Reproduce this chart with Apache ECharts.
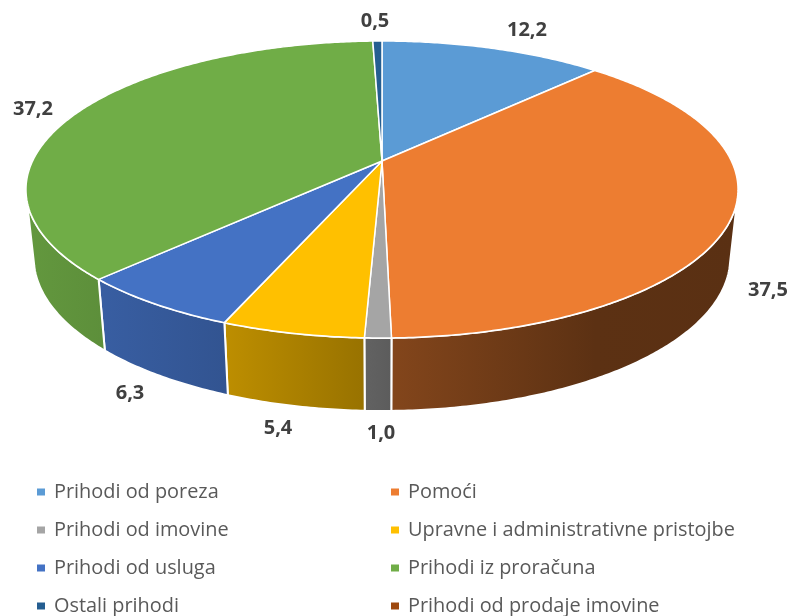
<!DOCTYPE html>
<html>
<head>
<meta charset="utf-8">
<script src="https://cdn.jsdelivr.net/npm/echarts@6/dist/echarts.min.js"></script>
<style>html,body{margin:0;padding:0;background:#fff}#c{width:792px;height:616px}</style>
</head>
<body>
<div id="c"></div>
<script>
const categories = ['Prihodi od poreza','Pomoći','Prihodi od imovine','Upravne i administrativne pristojbe','Prihodi od usluga','Prihodi iz proračuna','Ostali prihodi','Prihodi od prodaje imovine'];
const values = [12.2,37.5,1.0,5.4,6.3,37.2,0.5,0];
const valueLabels = ['12,2','37,5','1,0','5,4','6,3','37,2','0,5',''];
const colors = ['#5B9BD5','#ED7D31','#A5A5A5','#FFC000','#4472C4','#70AD47','#255E91','#9E480E'];

// Layout of the perspective pie
const view = {cx:382, cy:161, a:349.4, b:143, k:0.192, wallScaleX:0.978, wallScaleY:1.03, wallY:228.7, frontFrom:1.80, frontTo:4.48};
const labelAnchors = [[527,30],[768,290],[381,433],[278,428],[130,393],[33,109],[375,21],[0,0]];
const wallShade = [[0,.88],[.28,.74],[.47,.6],[.52,.55],[.8,.39],[1,.38]];

const total = values.reduce((s,v)=>s+v,0);
const starts = [];
values.reduce((s,v,i)=>{starts[i]=s;return s+v;},0);

function project(theta){
  const u=Math.sin(theta), v=-Math.cos(theta), d=1-view.k*v;
  return [view.cx+view.a*u/d, view.cy+view.b*v/d];
}
function lower(p){
  return [view.cx+view.wallScaleX*(p[0]-view.cx), view.wallY+view.wallScaleY*(p[1]-view.cy)];
}
function shade(hex,f){
  const n=parseInt(hex.slice(1),16);
  const c=[n>>16,(n>>8)&255,n&255].map(x=>Math.round(x*f));
  return 'rgb('+c.join(',')+')';
}
function arcPoints(from,to){
  const n=Math.max(4,Math.ceil((to-from)/0.01));
  const pts=[];
  for(let j=0;j<=n;j++) pts.push(project(from+(to-from)*j/n));
  return pts;
}
function renderSlice(i){
  return function(params,api){
    const value=api.value(0);
    if(!(value>0)) return {type:'group',children:[]};
    const from=starts[i]/total*2*Math.PI;
    const to=from+value/total*2*Math.PI;
    const children=[];
    const lo=Math.max(from,view.frontFrom), hi=Math.min(to,view.frontTo);
    if(hi>lo){
      const arc=arcPoints(lo,hi);
      children.push({type:'polygon',z2:1,shape:{points:arc.concat(arc.map(lower).reverse())},style:{
        fill:{type:'linear',x:26,y:0,x2:738,y2:0,global:true,
          colorStops:wallShade.map(s=>({offset:s[0],color:shade(colors[i],s[1])}))},
        stroke:'#fff',lineWidth:2,lineJoin:'round'}});
    }
    children.push({type:'polygon',z2:10,shape:{points:[[view.cx,view.cy]].concat(arcPoints(from,to))},
      style:{fill:colors[i],stroke:'#fff',lineWidth:1.5,lineJoin:'round'}});
    children.push({type:'text',z2:20,x:labelAnchors[i][0],y:labelAnchors[i][1],style:{
      text:valueLabels[i],fill:'#404040',font:'bold 20px "Open Sans"',align:'center',verticalAlign:'middle'}});
    return {type:'group',children:children};
  };
}
const legendBase = {orient:'vertical',selectedMode:false,icon:'rect',itemWidth:8,itemHeight:7,itemGap:18,top:482,padding:0,
  textStyle:{color:'#595959',fontFamily:'"Open Sans"',fontSize:19.9,lineHeight:20,height:20,padding:[0,0,0,4]}};
const option = {
  animation:false,
  backgroundColor:'#fff',
  legend:[
    Object.assign({},legendBase,{left:37,data:categories.filter((_,i)=>i%2===0)}),
    Object.assign({},legendBase,{left:391,data:categories.filter((_,i)=>i%2===1)})
  ],
  series:categories.map((name,i)=>({
    type:'custom',name:name,coordinateSystem:'none',silent:true,
    itemStyle:{color:colors[i]},
    data:[[values[i]]],
    encode:{value:0},
    renderItem:renderSlice(i)
  }))
};
echarts.init(document.getElementById('c'),null,{renderer:'canvas'}).setOption(option);
</script>
</body>
</html>
